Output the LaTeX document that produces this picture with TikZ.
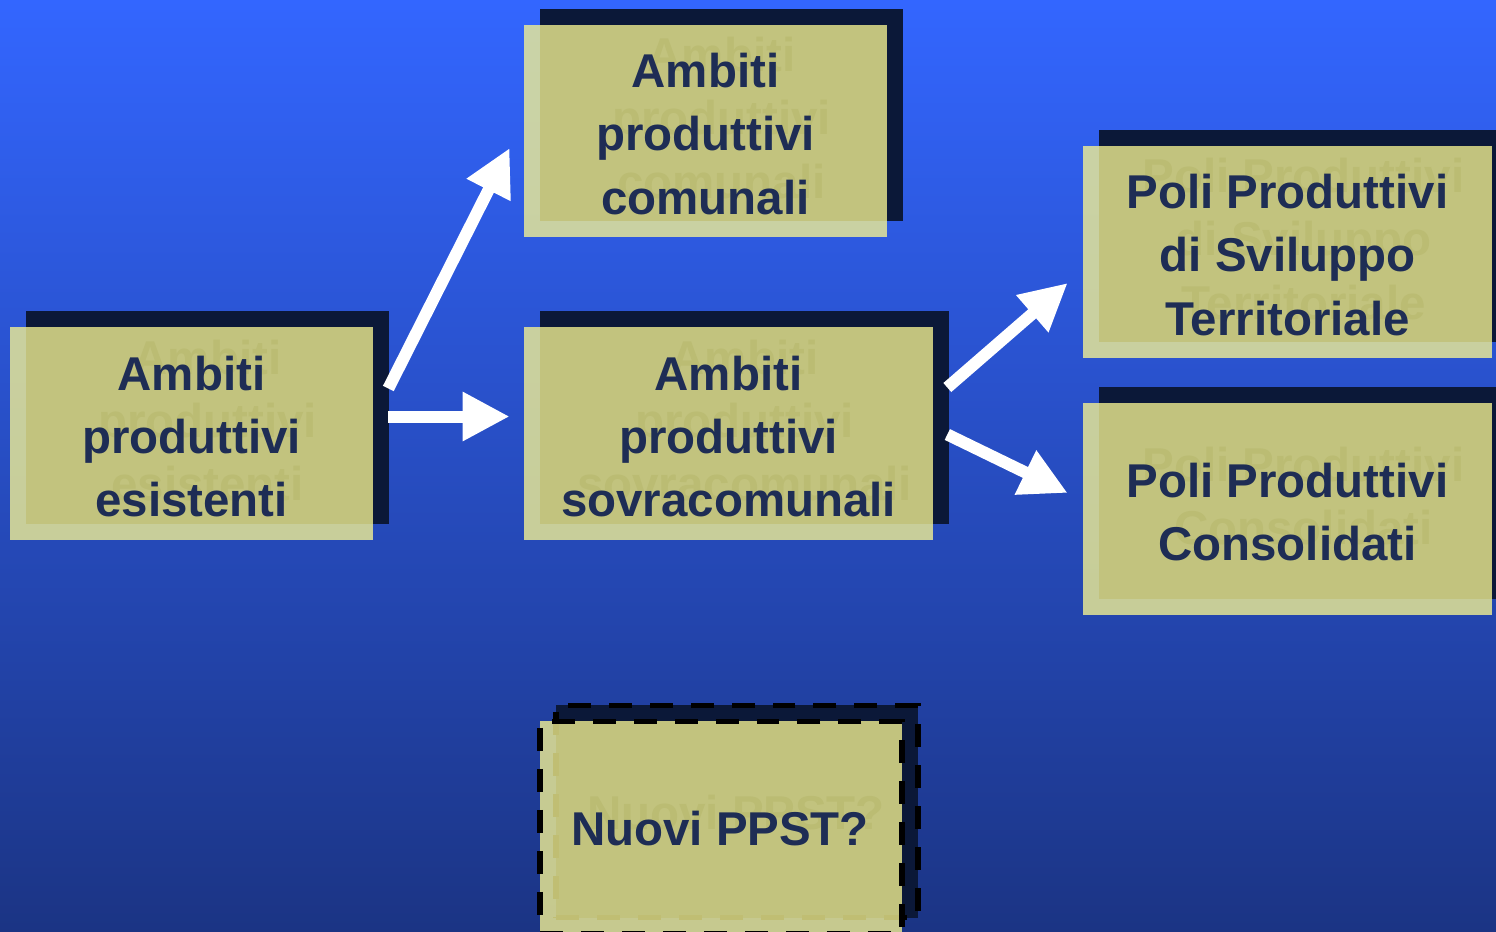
\documentclass[tikz,border=0pt]{standalone}
\usepackage{fontspec}
\setmainfont{Liberation Sans}
\usetikzlibrary{arrows.meta,calc}

\definecolor{sfondoalto}{RGB}{51,102,255}
\definecolor{sfondobasso}{RGB}{27,52,132}
\definecolor{ombra}{RGB}{11,24,56}
\definecolor{riempi}{RGB}{244,242,146}
\definecolor{testo}{RGB}{30,45,85}
\definecolor{eco}{RGB}{187,188,115}

\begin{document}
\begin{tikzpicture}[x=0.02cm, y=-0.02cm,
    ombrabox/.style={fill=ombra, inner sep=0pt, minimum height=4.25cm},
    scatola/.style={fill=riempi, fill opacity=0.79, inner sep=0pt, minimum height=4.25cm},
    scritta/.style={text=testo, align=center, font=\bfseries\fontsize{27pt}{35.9pt}\selectfont},
    scrittaeco/.style={scritta, text=eco},
    tratteggio/.style={draw=black, line width=0.11cm, dash pattern=on 0.46cm off 0.36cm},
    freccia/.style={white, line width=0.24cm, -{Triangle[length=0.94cm, width=0.92cm]}}]

    % sfondo
    \clip (0,0) rectangle (1496,932);
    \shade[top color=sfondoalto, bottom color=sfondobasso] (0,0) rectangle (1496,932);

    % ambiti produttivi esistenti
    \node[ombrabox, minimum width=7.26cm] (esist-ombra) at (207.5,417.5) {};
    \node[scatola, minimum width=7.26cm] (esist) at (191.5,433.5) {};
    \node[scrittaeco] (esist-eco) at (207.5,420.5) {Ambiti\\produttivi\\esistenti};
    \node[scritta] (esist-t) at (191.5,436.5) {Ambiti\\produttivi\\esistenti};

    % ambiti produttivi comunali
    \node[ombrabox, minimum width=7.26cm] (comunali-ombra) at (721.5,115) {};
    \node[scatola, minimum width=7.26cm] (comunali) at (705.5,131) {};
    \node[scrittaeco] (comunali-eco) at (721.5,118) {Ambiti\\produttivi\\comunali};
    \node[scritta] (comunali-t) at (705.5,134) {Ambiti\\produttivi\\comunali};

    % ambiti produttivi sovracomunali
    \node[ombrabox, minimum width=8.18cm] (sovra-ombra) at (744.5,417.5) {};
    \node[scatola, minimum width=8.18cm] (sovra) at (728.5,433.5) {};
    \node[scrittaeco] (sovra-eco) at (744.5,420.5) {Ambiti\\produttivi\\sovracomunali};
    \node[scritta] (sovra-t) at (728.5,436.5) {Ambiti\\produttivi\\sovracomunali};

    % poli produttivi di sviluppo territoriale
    \node[ombrabox, minimum width=8.18cm] (svil-ombra) at (1303.5,236) {};
    \node[scatola, minimum width=8.18cm] (svil) at (1287.5,252) {};
    \node[scrittaeco] (svil-eco) at (1303.5,239) {Poli Produttivi\\di Sviluppo\\Territoriale};
    \node[scritta] (svil-t) at (1287.5,255) {Poli Produttivi\\di Sviluppo\\Territoriale};

    % poli produttivi consolidati
    \node[ombrabox, minimum width=8.18cm] (cons-ombra) at (1303.5,493) {};
    \node[scatola, minimum width=8.18cm] (cons) at (1287.5,509) {};
    \node[scrittaeco] (cons-eco) at (1303.5,496) {Poli Produttivi\\Consolidati};
    \node[scritta] (cons-t) at (1287.5,512) {Poli Produttivi\\Consolidati};

    % nuovi PPST (tratteggiato)
    \node[ombrabox, tratteggio, minimum width=7.24cm] (nuovi-ombra) at (737,811.5) {};
    \node[scatola, tratteggio, minimum width=7.24cm] (nuovi) at (721,827.5) {};
    \node[scrittaeco] (nuovi-eco) at (736,813) {Nuovi PPST?};
    \node[scritta] (nuovi-t) at (720,829) {Nuovi PPST?};

    % frecce
    \draw[freccia] ($(esist.east)+(15,-45)$) -- ($(comunali.west)+(-14,17)$);
    \draw[freccia] ($(esist.east)+(15,-17)$) -- ($(sovra.west)+(-14,-17)$);
    \draw[freccia] ($(sovra.east)+(14,-46)$) -- ($(svil.west)+(-15,31)$);
    \draw[freccia] ($(sovra.east)+(14,1)$) -- ($(cons.west)+(-15,-16)$);

\end{tikzpicture}
\end{document}
